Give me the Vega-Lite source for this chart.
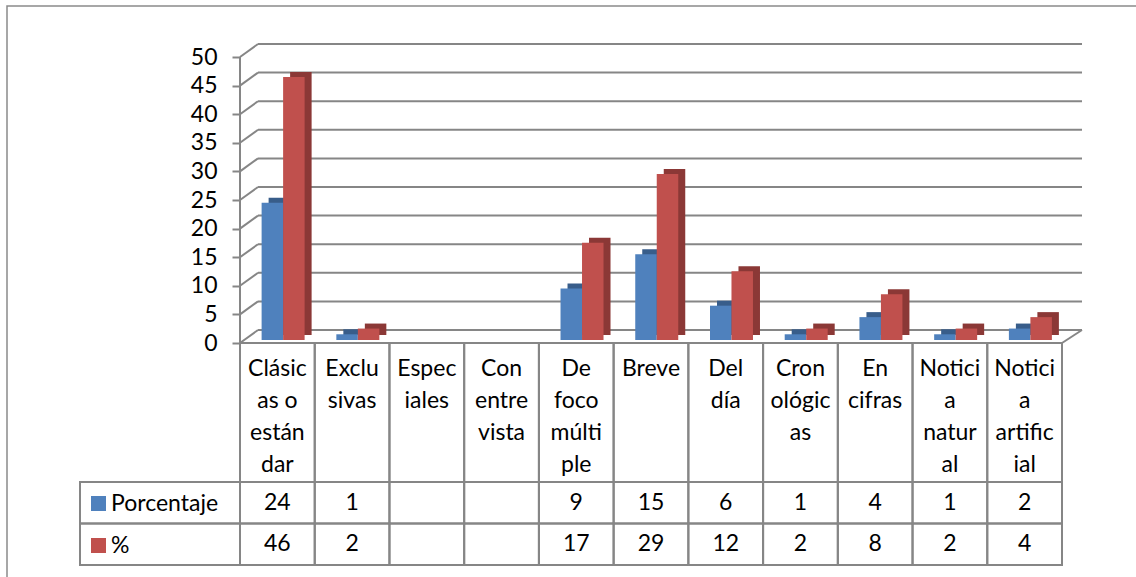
{
  "$schema": "https://vega.github.io/schema/vega-lite/v6.json",
  "width": 1135,
  "height": 576,
  "autosize": {"type": "none"},
  "padding": {"left": 7, "top": 6, "right": 0, "bottom": 0},
  "background": "white",
  "config": {
    "view": {"stroke": "#8a8a8a", "strokeWidth": 1.5},
    "font": "Lato"
  },
  "datasets": {
    "main": [
      {"cat": "Clásicas o estándar", "lab": "Clásic|as o|están|dar", "serie": "Porcentaje", "value": 24},
      {"cat": "Clásicas o estándar", "lab": "Clásic|as o|están|dar", "serie": "%", "value": 46},
      {"cat": "Exclusivas", "lab": "Exclu|sivas", "serie": "Porcentaje", "value": 1},
      {"cat": "Exclusivas", "lab": "Exclu|sivas", "serie": "%", "value": 2},
      {"cat": "Especiales", "lab": "Espec|iales", "serie": "Porcentaje", "value": null},
      {"cat": "Especiales", "lab": "Espec|iales", "serie": "%", "value": null},
      {"cat": "Con entrevista", "lab": "Con|entre|vista", "serie": "Porcentaje", "value": null},
      {"cat": "Con entrevista", "lab": "Con|entre|vista", "serie": "%", "value": null},
      {"cat": "De foco múltiple", "lab": "De|foco|múlti|ple", "serie": "Porcentaje", "value": 9},
      {"cat": "De foco múltiple", "lab": "De|foco|múlti|ple", "serie": "%", "value": 17},
      {"cat": "Breve", "lab": "Breve", "serie": "Porcentaje", "value": 15},
      {"cat": "Breve", "lab": "Breve", "serie": "%", "value": 29},
      {"cat": "Del día", "lab": "Del|día", "serie": "Porcentaje", "value": 6},
      {"cat": "Del día", "lab": "Del|día", "serie": "%", "value": 12},
      {"cat": "Cronológicas", "lab": "Cron|ológic|as", "serie": "Porcentaje", "value": 1},
      {"cat": "Cronológicas", "lab": "Cron|ológic|as", "serie": "%", "value": 2},
      {"cat": "En cifras", "lab": "En|cifras", "serie": "Porcentaje", "value": 4},
      {"cat": "En cifras", "lab": "En|cifras", "serie": "%", "value": 8},
      {"cat": "Noticia natural", "lab": "Notici|a|natur|al", "serie": "Porcentaje", "value": 1},
      {"cat": "Noticia natural", "lab": "Notici|a|natur|al", "serie": "%", "value": 2},
      {"cat": "Noticia artificial", "lab": "Notici|a|artific|ial", "serie": "Porcentaje", "value": 2},
      {"cat": "Noticia artificial", "lab": "Notici|a|artific|ial", "serie": "%", "value": 4}
    ],
    "grid": [{"v": 0}, {"v": 5}, {"v": 10}, {"v": 15}, {"v": 20}, {"v": 25}, {"v": 30}, {"v": 35}, {"v": 40}, {"v": 45}, {"v": 50}],
    "one": [{}]
  },
  "resolve": {"scale": {"y": "independent"}},
  "layer": [
    {
      "data": {"name": "grid"},
      "mark": {"type": "rule", "stroke": "#868686", "strokeWidth": 2, "xOffset": 18, "x2Offset": 20},
      "encoding": {
        "x": {"datum": "Clásicas o estándar", "type": "nominal", "bandPosition": 0,
              "scale": {"domain": ["Clásicas o estándar", "Exclusivas", "Especiales", "Con entrevista", "De foco múltiple", "Breve", "Del día", "Cronológicas", "En cifras", "Noticia natural", "Noticia artificial"], "range": [233, 1055], "paddingInner": 0, "paddingOuter": 0},
              "axis": null},
        "x2": {"datum": "Noticia artificial", "bandPosition": 1},
        "y": {"field": "v", "type": "quantitative",
              "scale": {"domain": [0, 50], "range": [324, 38], "nice": false, "zero": true},
              "axis": {"orient": "left", "offset": -233, "tickOffset": 13, "domain": false, "grid": false,
                       "values": [0, 5, 10, 15, 20, 25, 30, 35, 40, 45, 50],
                       "tickSize": 8, "tickColor": "#868686", "tickWidth": 2,
                       "labelFont": "Lato", "labelFontSize": 23, "labelColor": "black", "labelPadding": 15, "title": null}}
      }
    },
    {
      "data": {"name": "grid"},
      "mark": {"type": "rule", "stroke": "#868686", "strokeWidth": 2, "x2Offset": 18, "yOffset": 13},
      "encoding": {
        "x": {"datum": "Clásicas o estándar", "type": "nominal", "bandPosition": 0},
        "x2": {"datum": "Clásicas o estándar", "bandPosition": 0},
        "y": {"field": "v", "type": "quantitative", "scale": {"domain": [0, 50], "range": [324, 38], "nice": false}, "axis": null},
        "y2": {"field": "v"}
      }
    },
    {
      "data": {"name": "one"},
      "mark": {"type": "rule", "stroke": "#868686", "strokeWidth": 2, "yOffset": 13, "y2Offset": 13},
      "encoding": {
        "x": {"datum": "Clásicas o estándar", "type": "nominal", "bandPosition": 0},
        "y": {"datum": 0, "type": "quantitative", "scale": {"domain": [0, 50], "range": [324, 38], "nice": false}, "axis": null},
        "y2": {"datum": 50}
      }
    },
    {
      "data": {"name": "one"},
      "mark": {"type": "rule", "stroke": "#868686", "strokeWidth": 2, "yOffset": 13, "y2Offset": 13},
      "encoding": {
        "x": {"datum": "Clásicas o estándar", "type": "nominal", "bandPosition": 0},
        "x2": {"datum": "Noticia artificial", "bandPosition": 1},
        "y": {"datum": 0, "type": "quantitative", "scale": {"domain": [0, 50], "range": [324, 38], "nice": false}, "axis": null}
      }
    },
    {
      "data": {"name": "one"},
      "mark": {"type": "rule", "stroke": "#868686", "strokeWidth": 2, "yOffset": 13, "x2Offset": 20},
      "encoding": {
        "x": {"datum": "Noticia artificial", "type": "nominal", "bandPosition": 1},
        "x2": {"datum": "Noticia artificial", "bandPosition": 1},
        "y": {"datum": 0, "type": "quantitative", "scale": {"domain": [0, 50], "range": [324, 38], "nice": false}, "axis": null},
        "y2": {"datum": 0}
      }
    },
    {
      "data": {"name": "main"},
      "transform": [{"filter": "datum.serie == 'Porcentaje' && datum.value != null"}],
      "mark": {"type": "bar", "color": "#385D8A", "width": 21.5, "xOffset": 2, "x2Offset": 2, "yOffset": 5, "y2Offset": 5},
      "encoding": {
        "x": {"field": "cat", "type": "nominal"},
        "y": {"field": "value", "type": "quantitative", "scale": {"domain": [0, 50], "range": [324, 38], "nice": false}, "axis": null}
      }
    },
    {
      "data": {"name": "main"},
      "transform": [{"filter": "datum.serie == 'Porcentaje' && datum.value != null"}],
      "mark": {"type": "bar", "width": 21.5, "xOffset": -5, "x2Offset": -5, "yOffset": 10, "y2Offset": 10, "opacity": 1},
      "encoding": {
        "x": {"field": "cat", "type": "nominal"},
        "y": {"field": "value", "type": "quantitative", "scale": {"domain": [0, 50], "range": [324, 38], "nice": false}, "axis": null},
        "color": {"field": "serie", "type": "nominal",
                  "scale": {"domain": ["Porcentaje", "%"], "range": ["#4F81BD", "#C0504D"]},
                  "legend": {"orient": "none", "legendX": 80, "legendY": 486, "symbolType": "square", "symbolSize": 225,
                             "symbolStrokeWidth": 0, "symbolOpacity": 1, "labelFont": "Lato", "labelFontSize": 23,
                             "labelColor": "black", "rowPadding": 18, "labelOffset": 1, "title": null}}
      }
    },
    {
      "data": {"name": "main"},
      "transform": [{"filter": "datum.serie == '%' && datum.value != null"}],
      "mark": {"type": "bar", "color": "#8B3836", "width": 21.5, "xOffset": 23.5, "x2Offset": 23.5, "yOffset": 5, "y2Offset": 5},
      "encoding": {
        "x": {"field": "cat", "type": "nominal"},
        "y": {"field": "value", "type": "quantitative", "scale": {"domain": [0, 50], "range": [324, 38], "nice": false}, "axis": null}
      }
    },
    {
      "data": {"name": "main"},
      "transform": [{"filter": "datum.serie == '%' && datum.value != null"}],
      "mark": {"type": "bar", "width": 21.5, "xOffset": 16.5, "x2Offset": 16.5, "yOffset": 10, "y2Offset": 10, "opacity": 1},
      "encoding": {
        "x": {"field": "cat", "type": "nominal"},
        "y": {"field": "value", "type": "quantitative", "scale": {"domain": [0, 50], "range": [324, 38], "nice": false}, "axis": null},
        "color": {"field": "serie", "type": "nominal"}
      }
    },
    {
      "data": {"name": "main"},
      "transform": [{"filter": "datum.serie == 'Porcentaje'"}],
      "mark": {"type": "rect", "fill": "white", "fillOpacity": 0, "stroke": "#868686", "strokeWidth": 2},
      "encoding": {
        "x": {"field": "cat", "type": "nominal"},
        "y": {"datum": "hdr", "type": "nominal", "scale": {"domain": ["hdr"], "range": [337, 476], "paddingInner": 0, "paddingOuter": 0}, "axis": null}
      }
    },
    {
      "data": {"name": "main"},
      "transform": [{"filter": "datum.serie == 'Porcentaje'"}],
      "mark": {"type": "text", "font": "Lato", "fontSize": 23, "color": "black", "baseline": "top", "align": "center", "lineBreak": "|", "lineHeight": 32.3, "dy": -55},
      "encoding": {
        "x": {"field": "cat", "type": "nominal"},
        "y": {"datum": "hdr", "type": "nominal", "scale": {"domain": ["hdr"], "range": [337, 476], "paddingInner": 0, "paddingOuter": 0}, "axis": null},
        "text": {"field": "lab"}
      }
    },
    {
      "data": {"name": "main"},
      "mark": {"type": "rect", "fill": "white", "fillOpacity": 0, "stroke": "#868686", "strokeWidth": 2},
      "encoding": {
        "x": {"field": "cat", "type": "nominal"},
        "y": {"field": "serie", "type": "nominal", "scale": {"domain": ["Porcentaje", "%"], "range": [476, 559], "paddingInner": 0, "paddingOuter": 0}, "axis": null}
      }
    },
    {
      "data": {"name": "main"},
      "transform": [{"filter": "datum.cat == 'Breve'"}],
      "mark": {"type": "rect", "fill": "white", "fillOpacity": 0, "stroke": "#868686", "strokeWidth": 2, "xOffset": -160},
      "encoding": {
        "x": {"datum": "Clásicas o estándar", "type": "nominal", "bandPosition": 0},
        "x2": {"datum": "Clásicas o estándar", "bandPosition": 0},
        "y": {"field": "serie", "type": "nominal", "scale": {"domain": ["Porcentaje", "%"], "range": [476, 559], "paddingInner": 0, "paddingOuter": 0}, "axis": null}
      }
    },
    {
      "data": {"name": "main"},
      "transform": [{"filter": "datum.value != null"}],
      "mark": {"type": "text", "font": "Lato", "fontSize": 23, "color": "black", "baseline": "middle", "align": "center"},
      "encoding": {
        "x": {"field": "cat", "type": "nominal"},
        "y": {"field": "serie", "type": "nominal", "scale": {"domain": ["Porcentaje", "%"], "range": [476, 559], "paddingInner": 0, "paddingOuter": 0}, "axis": null},
        "text": {"field": "value"}
      }
    }
  ]
}
